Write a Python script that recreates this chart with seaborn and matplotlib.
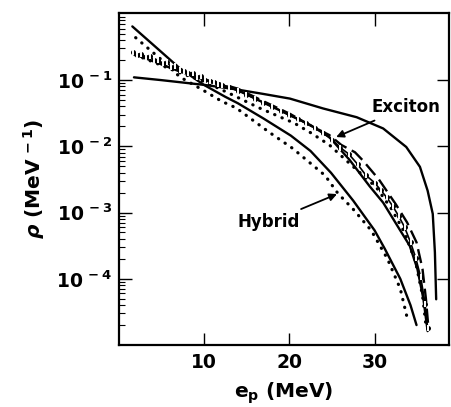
import matplotlib
matplotlib.use("Agg")
import matplotlib.pyplot as plt
import seaborn as sns
import numpy as np

# ---- data ----
exc_x = [1.85, 5, 10.3, 13.8, 17, 20.1, 24, 27.9, 31, 33.7, 35.3, 36.2, 36.8, 37.05, 37.2]
exc_y = [0.110, 0.100, 0.0839, 0.0724, 0.0617, 0.0525, 0.0372, 0.0275, 0.0186,
         0.00977, 0.00490, 0.00214, 0.000955, 0.000251, 0.000049]

d_x = [1.66, 4, 7.2, 10, 12.5, 14, 17, 20.2, 22.5, 24.9, 27.5, 30, 31.2, 33, 34.2, 34.9]
d_y = [0.646, 0.35, 0.151, 0.0851, 0.0562, 0.0447, 0.0263, 0.0145, 0.00851, 0.00398,
       0.00151, 0.000537, 0.000282, 0.0001, 3.98e-5, 2.0e-5]

e_x = [2.05, 3.5, 5.5, 7.2, 9.9, 12.1, 13.8, 17.7, 20.4, 24.2, 25.7, 27.5, 29.6, 31.5, 33, 33.9]
e_y = [0.437, 0.302, 0.182, 0.112, 0.0708, 0.0479, 0.038, 0.0162, 0.00933, 0.00363,
       0.00195, 0.00112, 0.000537, 0.0002, 7.08e-5, 2.29e-5]

b_x = [1.7, 4, 7, 10, 14, 17, 20.1, 22.5, 24.7, 27.1, 29.4, 31, 32.9, 34.1, 35, 35.7, 36.2]
b_y = [0.251, 0.195, 0.138, 0.102, 0.0708, 0.0457, 0.0295, 0.0209, 0.0138, 0.00617,
       0.00251, 0.00141, 0.000562, 0.000316, 0.000141, 5.01e-5, 1.62e-5]

c_x = [1.7, 4, 7, 10, 14, 17, 20.1, 22.4, 24.7, 26.1, 27.7, 28.6, 30.5, 32.5, 33.8, 34.9, 35.6, 36.0, 36.3]
c_y = [0.251, 0.200, 0.141, 0.105, 0.0741, 0.0479, 0.0309, 0.0209, 0.0148, 0.0105,
       0.00813, 0.00617, 0.00316, 0.00132, 0.000708, 0.000355, 0.000141, 5.0e-5, 1.78e-5]

f_x = [2, 4, 7, 10, 13, 16.5, 20.6, 22.6, 24.7, 27, 30.2, 32, 33.5, 34.8, 35.6, 36.0]
f_y = [0.24, 0.19, 0.132, 0.0955, 0.0631, 0.038, 0.0224, 0.0158, 0.0105, 0.00562,
       0.0024, 0.00112, 0.0005, 0.000178, 5.62e-5, 2.0e-5]

g_x = [1.7, 2.2, 2.7, 3.2, 3.7, 4.2, 4.7, 5.2, 5.7, 6.2, 6.7, 7.2, 7.7, 8.2, 8.7, 9.2,
       9.7, 10.2, 10.7, 11.2, 11.7, 12.2, 13, 14, 15, 16, 17, 18, 19, 20, 21, 22, 23,
       24, 25, 26, 27, 28, 29, 30, 30.7, 31.4, 32.1, 32.8, 33.5, 34.2, 34.8, 35.4,
       35.9, 36.2]
g_y = [0.263, 0.240, 0.251, 0.224, 0.229, 0.200, 0.204, 0.178, 0.186, 0.158, 0.162,
       0.141, 0.138, 0.126, 0.129, 0.112, 0.115, 0.102, 0.0977, 0.0933, 0.0871,
       0.0851, 0.0776, 0.0692, 0.0603, 0.0525, 0.0457, 0.0398, 0.0347, 0.0295,
       0.0257, 0.0224, 0.0191, 0.0158, 0.0126, 0.00955, 0.00759, 0.00537, 0.00363,
       0.00282, 0.00219, 0.0017, 0.00126, 0.000891, 0.000603, 0.000355, 0.000209,
       0.000105, 4.17e-5, 1.78e-5]

x_ticks = [10, 20, 30]
y_ticks = [1e-1, 1e-2, 1e-3, 1e-4]
y_tick_labels = [r"$10^{\,-1}$", r"$10^{\,-2}$", r"$10^{\,-3}$", r"$10^{\,-4}$"]

# ---- style ----
sns.set_style("ticks")
plt.rcParams["font.family"] = ["DejaVu Sans"]
plt.rcParams["font.weight"] = "bold"
plt.rcParams["mathtext.fontset"] = "custom"
plt.rcParams["mathtext.rm"] = "DejaVu Sans:bold"
plt.rcParams["mathtext.it"] = "DejaVu Sans:bold:italic"
plt.rcParams["mathtext.bf"] = "DejaVu Sans:bold"
for key in ["text.color", "axes.labelcolor", "xtick.color", "ytick.color", "axes.edgecolor"]:
    plt.rcParams[key] = "black"

fig = plt.figure(figsize=(4.51, 4.07), dpi=100)
ax = fig.add_axes([119 / 451, 1 - 345 / 407, (449 - 119) / 451, (345 - 13) / 407])

k = "black"
dot = (0, (0.1, 2.4))
sns.lineplot(x=exc_x, y=exc_y, ax=ax, color=k, lw=1.7, sort=False)
sns.lineplot(x=d_x, y=d_y, ax=ax, color=k, lw=1.7, sort=False)
sns.lineplot(x=b_x, y=b_y, ax=ax, color=k, lw=1.7, sort=False)
sns.lineplot(x=c_x, y=c_y, ax=ax, color=k, lw=1.7, sort=False, linestyle=(0, (6, 2.5)))
sns.lineplot(x=e_x, y=e_y, ax=ax, color=k, lw=2.3, sort=False, linestyle=dot,
             dash_capstyle="round")
sns.lineplot(x=f_x, y=f_y, ax=ax, color=k, lw=2.3, sort=False, linestyle=dot,
             dash_capstyle="round")
sns.lineplot(x=g_x, y=g_y, ax=ax, color=k, lw=1.2, sort=False, marker="o",
             markersize=3.6, markeredgewidth=0)
sns.lineplot(x=g_x, y=g_y, ax=ax, color=k, lw=0, sort=False, marker="|",
             markersize=5, markeredgewidth=1.4)

ax.set_yscale("log")
ax.set_xlim(0.1, 38.7)
ax.set_ylim(1e-5, 1.03)
ax.set_xticks(x_ticks)
ax.set_xticklabels([str(v) for v in x_ticks])
ax.set_yticks(y_ticks)
ax.set_yticklabels(y_tick_labels)
ax.yaxis.set_minor_locator(matplotlib.ticker.LogLocator(base=10, subs=np.arange(2, 10), numticks=20))
ax.yaxis.set_minor_formatter(matplotlib.ticker.NullFormatter())

ax.tick_params(axis="both", which="major", direction="in", labelsize=13.5, width=1.0,
               length=9, top=True, right=True, pad=6, colors="black")
ax.tick_params(axis="y", which="major", pad=5)
ax.tick_params(axis="y", which="minor", direction="in", length=4, width=0.8,
               left=True, right=False, colors="black")
for s in ax.spines.values():
    s.set_linewidth(1.6)
    s.set_color("black")

ax.set_xlabel(r"e$_{\mathregular{p}}$ (MeV)", fontsize=14.5, fontweight="bold", labelpad=6,
              color="black")
ax.set_ylabel(r"$\it{\rho}$ (MeV$^{\,-1}$)", fontsize=14.5, fontweight="bold", labelpad=7,
              color="black")

arrow = dict(arrowstyle="-|>", color=k, lw=1.3, shrinkA=2, shrinkB=0, mutation_scale=11)
ax.annotate("Exciton", xy=(25.5, 0.0138), xytext=(29.6, 0.039), fontsize=12,
            fontweight="bold", ha="left", va="center", arrowprops=arrow, color="black")
ax.annotate("Hybrid", xy=(25.6, 0.0019), xytext=(21.3, 0.00071), fontsize=12,
            fontweight="bold", ha="right", va="center", arrowprops=arrow, color="black")

fig.savefig("out.png", dpi=100)
